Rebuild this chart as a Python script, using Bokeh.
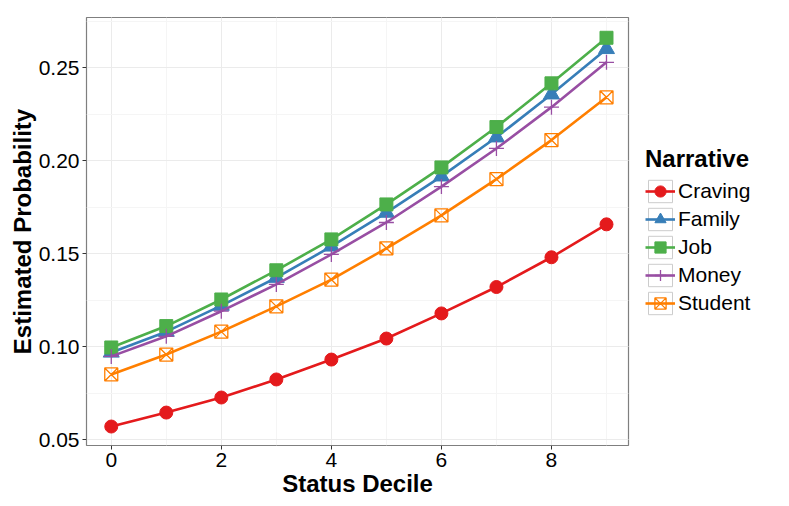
from bokeh.plotting import figure
from bokeh.models import Range1d, SingleIntervalTicker, Legend, LegendItem, CustomJSTickFormatter
from bokeh.embed import file_html
from bokeh.resources import INLINE

deciles = [0, 1, 2, 3, 4, 5, 6, 7, 8, 9]
craving = [0.057, 0.0645, 0.0726, 0.0823, 0.093, 0.1043, 0.1178, 0.132, 0.148, 0.1657]
family = [0.0968, 0.108, 0.122, 0.137, 0.1538, 0.172, 0.1915, 0.2125, 0.2356, 0.260]
job = [0.0995, 0.111, 0.1253, 0.141, 0.1576, 0.1764, 0.1963, 0.218, 0.2415, 0.266]
money = [0.0947, 0.1055, 0.119, 0.1334, 0.1495, 0.1667, 0.186, 0.2065, 0.2287, 0.2528]
student = [0.085, 0.0957, 0.108, 0.1216, 0.136, 0.1528, 0.1705, 0.190, 0.211, 0.234]

names = ["Craving", "Family", "Job", "Money", "Student"]
series = [craving, family, job, money, student]
colors = ["#E41A1C", "#377EB8", "#4DAF4A", "#984EA3", "#FF7F00"]
markers = ["circle", "triangle", "square", "cross", "square_x"]

FONT = "Liberation Sans"
NAN = float("nan")

p = figure(frame_width=542, frame_height=428, output_backend="svg", toolbar_location=None,
           x_range=Range1d(-0.45, 9.4), y_range=Range1d(0.0468, 0.2769),
           min_border_left=86, min_border_right=10, min_border_top=17, min_border_bottom=55)

p.outline_line_color = "#7F7F7F"
p.outline_line_width = 1.2
p.background_fill_color = "white"

p.xaxis.ticker = SingleIntervalTicker(interval=2, num_minor_ticks=2)
p.yaxis.ticker = SingleIntervalTicker(interval=0.05, num_minor_ticks=2)
p.yaxis.formatter = CustomJSTickFormatter(code="return tick.toFixed(2);")

for ax in (p.xaxis[0], p.yaxis[0]):
    ax.axis_line_color = None
    ax.major_tick_line_color = "#333333"
    ax.major_tick_out = 4
    ax.major_tick_in = 0
    ax.minor_tick_line_color = None
    ax.major_label_text_font = FONT
    ax.major_label_text_font_size = "21px"
    ax.major_label_text_color = "black"
    ax.axis_label_text_font = FONT
    ax.axis_label_text_font_size = "24px"
    ax.axis_label_text_font_style = "bold"
    ax.axis_label_text_color = "black"

p.xaxis.axis_label = "Status Decile"
p.yaxis.axis_label = "Estimated Probability"
p.xaxis.major_label_standoff = 3
p.xaxis.axis_label_standoff = 0
p.yaxis.major_label_standoff = 3
p.yaxis.axis_label_standoff = 0

for g in (p.xgrid[0], p.ygrid[0]):
    g.grid_line_color = "#EBEBEB"
    g.grid_line_width = 1
    g.minor_grid_line_color = "#F5F5F5"
    g.minor_grid_line_width = 1

items = []
for name, ys, c, m in zip(names, series, colors, markers):
    # legend key frame (not drawn in the plot: NaN position)
    box = p.rect(x=[NAN], y=[NAN], width=1, height=1, fill_color="white",
                 line_color="#CCCCCC", line_width=1)
    lr = p.line(deciles, ys, line_color=c, line_width=2.6)
    if m in ("cross", "square_x"):
        sr = p.scatter(deciles, ys, marker=m, size=15 if m == "cross" else 13,
                       line_color=c, fill_color=None, line_width=1.3)
    elif m == "triangle":
        sr = p.scatter(deciles, ys, marker=m, size=16, line_color=c, fill_color=c)
    else:
        sr = p.scatter(deciles, ys, marker=m, size=13, line_color=c, fill_color=c)
    items.append(LegendItem(label=name, renderers=[box, lr, sr]))

legend = Legend(items=items, title="Narrative", location="center_left")
legend.title_text_font = FONT
legend.title_text_font_size = "24px"
legend.title_text_font_style = "bold"
legend.title_text_color = "black"
legend.title_standoff = 4
legend.label_text_font = FONT
legend.label_text_font_size = "21px"
legend.label_text_color = "black"
legend.glyph_width = 30
legend.glyph_height = 28
legend.label_height = 28
legend.label_standoff = 3
legend.spacing = 0
legend.border_line_color = None
legend.background_fill_alpha = 0
legend.padding = 0
legend.margin = 17
p.add_layout(legend, "right")

open("out.html", "w").write(file_html(p, INLINE))
